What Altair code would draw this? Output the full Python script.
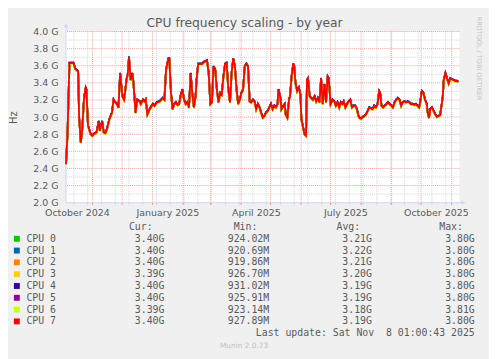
import altair as alt
import pandas as pd

TITLE = "CPU frequency scaling - by year"

cpu_names = ["CPU 0", "CPU 1", "CPU 2", "CPU 3", "CPU 4", "CPU 5", "CPU 6", "CPU 7"]
cpu_colors = ["#00CC00", "#0066B3", "#FF8000", "#FFCC00", "#330099", "#990099", "#CCFF00", "#FF0000"]
# small per-core deviation from the common trace (GHz), read from the coloured fringes
cpu_offset_ghz = [0.006, 0.009, -0.005, 0.0, 0.004, 0.002, -0.01, 0.0]

cur_vals = ["3.40G", "3.40G", "3.40G", "3.39G", "3.40G", "3.40G", "3.39G", "3.40G"]
min_vals = ["924.02M", "920.69M", "919.86M", "926.70M", "931.02M", "925.91M", "923.14M", "927.89M"]
avg_vals = ["3.21G", "3.22G", "3.21G", "3.20G", "3.19G", "3.19G", "3.18G", "3.19G"]
max_vals = ["3.80G", "3.80G", "3.80G", "3.80G", "3.80G", "3.80G", "3.81G", "3.80G"]

# days since 2024-10-01 (UTC)
day_offset = [
    4, 5.5, 7.5, 11.5, 13.5, 15.5, 16.3, 17.3, 19, 20.3, 22.3, 24, 24.7, 26.3, 29, 30.7,
    32.3, 35, 37.3, 38.3, 40.7, 42.3, 44, 45.7, 48, 50.7, 52.3, 53.3, 55.7, 57.3, 59, 61.3,
    63, 65.7, 66.7, 68, 69.7, 71.3, 72.3, 74.7, 76.3, 79, 80, 82.3, 84, 85, 86.7, 89,
    92.3, 94, 96.3, 99, 100.7, 102.3, 104, 105.7, 108, 109, 110.7, 112.3, 114, 115.7, 117.3, 119,
    120.7, 122.3, 124, 125.7, 127.3, 129, 130.7, 132.3, 134, 135.7, 136.7, 138.3, 140.7, 142.3, 144, 145.7,
    147.3, 149, 150.7, 152.3, 154, 155.7, 157.3, 159, 160.7, 162.3, 164, 165.7, 167.3, 169, 170.7, 172.3,
    174, 175.7, 177.3, 179, 180.7, 182.3, 184, 185.7, 187.3, 189, 190.7, 192.3, 194, 195.7, 197.3, 199,
    200.7, 202.3, 204, 205.7, 207.3, 209, 210.7, 212.3, 214, 215.7, 217.3, 219, 220, 221.7, 223, 225,
    226.3, 227.3, 229, 230.7, 231.7, 233.3, 235, 236, 237.3, 239, 240.7, 242.3, 243.3, 245, 246.3, 248,
    249, 250, 251.7, 253.3, 255, 256.7, 258.3, 260, 261.7, 263.3, 265, 266.7, 268.3, 270, 271, 273,
    275, 276.7, 278.3, 280, 281.7, 283.3, 285, 286.3, 288, 289.7, 291.3, 293, 294.7, 296.3, 298, 299.7,
    301.3, 302.3, 304, 305.7, 307.3, 309, 310.7, 312.3, 314, 315.7, 317.3, 319, 320.7, 322.3, 323.3, 324.7,
    326.3, 328, 329.7, 331.3, 333, 334.7, 336.3, 338, 339.7, 341.3, 343, 344.7, 346.3, 348, 349.7, 351.3,
    353, 354.7, 356.3, 358, 359.7, 361.3, 363, 364, 365.7, 367.3, 369, 370.7, 371.7, 373, 374.3, 376,
    377.7, 379.3, 381, 382.7, 384.3, 386, 387, 388, 389.7, 391.3, 393, 394.7, 396.3, 398, 399.7, 401.3,
    402.7,
]
freq_ghz = [
    2.45, 2.80, 3.63, 3.63, 3.56, 3.54, 3.53, 3.00, 2.70, 2.82, 3.22, 3.34, 3.32, 2.90, 2.80, 2.78,
    2.80, 2.82, 2.95, 2.84, 2.95, 2.82, 2.81, 2.86, 2.97, 3.05, 3.20, 3.18, 3.15, 3.11, 3.51, 3.24,
    3.20, 3.45, 3.49, 3.70, 3.43, 3.51, 3.43, 3.05, 3.20, 3.18, 3.15, 3.20, 3.18, 3.20, 3.03, 3.09,
    3.15, 3.13, 3.17, 3.18, 3.20, 3.22, 3.20, 3.55, 3.68, 3.68, 3.28, 3.09, 3.15, 3.17, 3.14, 3.15,
    3.26, 3.32, 3.20, 3.15, 3.17, 3.11, 3.51, 3.28, 3.11, 3.24, 3.43, 3.62, 3.62, 3.62, 3.64, 3.65,
    3.66, 3.51, 3.15, 3.17, 3.59, 3.55, 3.32, 3.17, 3.28, 3.26, 3.47, 3.62, 3.63, 3.32, 3.17, 3.51,
    3.68, 3.59, 3.32, 3.15, 3.20, 3.28, 3.32, 3.59, 3.62, 3.59, 3.18, 3.17, 3.20, 3.18, 3.09, 3.15,
    3.11, 3.05, 2.99, 3.01, 3.05, 3.07, 3.11, 3.15, 3.09, 3.13, 3.11, 3.15, 3.32, 3.24, 3.09, 3.13,
    3.15, 3.03, 2.99, 3.20, 3.24, 3.47, 3.62, 3.59, 3.39, 3.30, 3.34, 3.26, 2.97, 2.88, 2.80, 2.78,
    3.43, 3.45, 3.24, 3.22, 3.20, 3.24, 3.18, 3.22, 3.17, 3.45, 3.15, 3.38, 3.17, 3.47, 3.45, 3.15,
    3.20, 3.18, 3.13, 3.17, 3.11, 3.17, 3.15, 3.18, 3.11, 3.15, 3.18, 3.20, 3.11, 3.13, 3.13, 3.09,
    3.01, 2.99, 2.98, 3.00, 3.01, 3.03, 3.07, 3.11, 3.10, 3.09, 3.13, 3.11, 3.15, 3.30, 3.28, 3.13,
    3.11, 3.13, 3.15, 3.17, 3.15, 3.13, 3.11, 3.17, 3.20, 3.22, 3.20, 3.13, 3.17, 3.18, 3.17, 3.18,
    3.17, 3.15, 3.15, 3.14, 3.15, 3.13, 3.11, 3.17, 3.30, 3.28, 3.20, 3.15, 3.05, 2.99, 3.09, 3.11,
    3.07, 3.03, 3.00, 3.01, 3.02, 3.15, 3.24, 3.43, 3.51, 3.45, 3.39, 3.45, 3.44, 3.43, 3.42, 3.42,
    3.41,
]

x_labels_at = ["2024-10-16", "2025-01-16", "2025-04-16", "2025-07-16", "2025-10-16"]
y_ticks = [2.0, 2.2, 2.4, 2.6, 2.8, 3.0, 3.2, 3.4, 3.6, 3.8, 4.0]
y_minor = [2.1, 2.3, 2.5, 2.7, 2.9, 3.1, 3.3, 3.5, 3.7, 3.9]

FONT = "DejaVu Sans"
MONO = "DejaVu Sans Mono"
TXT = "#5a5a5a"
AXIS_C = "#CFD6F8"
MGRID = "#f0a0a0"
GRID = "#d4d4d4"


def ms(s):
    return int(pd.Timestamp(s, tz="UTC").value // 10**6)


base = pd.Timestamp("2024-10-01", tz="UTC")
rows = []
for name, off in zip(cpu_names, cpu_offset_ghz):
    for d, v in zip(day_offset, freq_ghz):
        t = base + pd.Timedelta(days=d)
        rows.append({"cpu": name, "t": int(t.value // 10**6), "v": round(v + off, 4)})
df = pd.DataFrame(rows)

x_dom = [ms("2024-10-05"), ms("2025-11-09")]
xsc = alt.Scale(type="utc", domain=x_dom)
ysc = alt.Scale(domain=[2.0, 4.0], nice=False, zero=False)

X_AXIS = alt.Axis(values=[ms(s) for s in x_labels_at], format="%B %Y", ticks=False, domain=False,
                  grid=False, labelFont=FONT, labelFontSize=9.6, labelColor=TXT, labelPadding=5,
                  labelAlign="center", labelBaseline="top", labelFlush=False, labelOverlap=False, title=None)
Y_AXIS = alt.Axis(values=y_ticks, labelExpr="format(datum.value, '.1f') + ' G'", ticks=False,
                  domain=False, grid=False, labelFont=FONT, labelFontSize=9.6, labelColor=TXT,
                  labelPadding=8, labelBaseline="middle", title="Hz", titleFont=FONT, titleFontSize=10,
                  titleFontWeight="normal", titleColor=TXT, titleX=-53, titleY=87, titleAngle=-90,
                  titleAlign="center", titleBaseline="middle")


def X(field):
    return alt.X(field, scale=xsc, axis=X_AXIS, title=None)


def Y(field):
    return alt.Y(field, scale=ysc, axis=Y_AXIS, title="Hz")


month_lines = pd.DataFrame({"t": [ms(s) for s in pd.date_range("2024-11-01", "2025-11-01", freq="MS").strftime("%Y-%m-%d")],
                            "a": 1.975, "b": 2.0})
week_lines = pd.DataFrame({"t": [ms(s) for s in pd.date_range("2024-10-13", "2025-11-08", freq="14D").strftime("%Y-%m-%d")],
                           "a": 1.98, "b": 2.0})
ymaj = pd.DataFrame({"v": y_ticks[1:]})
ymin = pd.DataFrame({"v": y_minor})

grid_x_minor = alt.Chart(week_lines).mark_rule(color=GRID, strokeDash=[1, 1], strokeWidth=1).encode(x=X("t:T"))
grid_y_minor = alt.Chart(ymin).mark_rule(color=GRID, strokeDash=[1, 1], strokeWidth=1).encode(y=Y("v:Q"))
grid_x_major = alt.Chart(month_lines).mark_rule(color=MGRID, strokeDash=[1, 1], strokeWidth=1).encode(x=X("t:T"))
grid_y_major = alt.Chart(ymaj).mark_rule(color=MGRID, strokeDash=[1, 1], strokeWidth=1).encode(y=Y("v:Q"))
tick_minor = alt.Chart(week_lines).mark_rule(color="#c8c8c8", strokeWidth=1).encode(x=X("t:T"), y=Y("a:Q"), y2="b:Q")
tick_major = alt.Chart(month_lines).mark_rule(color="#f08080", strokeWidth=1).encode(x=X("t:T"), y=Y("a:Q"), y2="b:Q")

lines = alt.Chart(df).mark_line(strokeWidth=1.8, interpolate="linear").encode(
    x=X("t:T"),
    y=Y("v:Q"),
    color=alt.Color("cpu:N", scale=alt.Scale(domain=cpu_names, range=cpu_colors), legend=None),
)

axis_h = pd.DataFrame({"t": [x_dom[0]], "t2": [ms("2025-11-13")], "v": [2.0]})
axis_v = pd.DataFrame({"t": [x_dom[0]], "v": [2.0], "v2": [4.07]})
ax_h = alt.Chart(axis_h).mark_rule(color=AXIS_C, strokeWidth=1).encode(x=X("t:T"), x2="t2:T", y=Y("v:Q"))
ax_v = alt.Chart(axis_v).mark_rule(color=AXIS_C, strokeWidth=1).encode(x=X("t:T"), y=Y("v:Q"), y2="v2:Q")
arr_h = alt.Chart(axis_h).mark_point(shape="triangle-right", filled=True, size=22, color=AXIS_C, opacity=1).encode(
    x=X("t2:T"), y=Y("v:Q"))
arr_v = alt.Chart(axis_v).mark_point(shape="triangle-up", filled=True, size=22, color=AXIS_C, opacity=1).encode(
    x=X("t:T"), y=Y("v2:Q"))

main = alt.layer(grid_x_minor, grid_y_minor, grid_x_major, grid_y_major, tick_minor, tick_major,
                 ax_h, ax_v, arr_h, arr_v, lines)

leg = pd.DataFrame({"cpu": cpu_names, "row": list(range(8)), "cur": cur_vals, "mn": min_vals,
                    "avg": avg_vals, "mx": max_vals})
rsc = alt.Scale(domain=[0, 7], range=[210.7, 294.7])
ly = alt.Y("row:Q", scale=rsc, axis=None)
squares = alt.Chart(leg).mark_square(size=36, opacity=1).encode(
    x=alt.value(-50), y=ly,
    color=alt.Color("cpu:N", scale=alt.Scale(domain=cpu_names, range=cpu_colors), legend=None))


def col(field, xpos, align):
    return alt.Chart(leg).mark_text(align=align, baseline="middle", font=MONO, fontSize=10, color=TXT).encode(
        x=alt.value(xpos), y=ly, text=f"{field}:N")


names = col("cpu", -40.3, "left")
c_cur = col("cur", 100, "right")
c_min = col("mn", 206.5, "right")
c_avg = col("avg", 311, "right")
c_max = col("mx", 415.5, "right")


def label(s, x, y, align="right", font=MONO, size=10, color=TXT, baseline="middle", angle=0):
    return alt.Chart(pd.DataFrame({"s": [s]})).mark_text(
        align=align, baseline=baseline, font=font, fontSize=size, color=color, angle=angle).encode(
        x=alt.value(x), y=alt.value(y), text="s:N")


headers = [label(h, xp, 198.7) for h, xp in zip(["Cur:", "Min:", "Avg:", "Max:"], [88, 194.5, 299, 403.5])]
footer = label("Last update: Sat Nov\u00a0 8 01:00:43 2025", 415.5, 306.7)
munin = label("Munin 2.0.73", 181, 319.3, align="center", font=FONT, size=7.5, color="#c0c0c0")
title = label(TITLE, 181.5, -5, align="center", font=FONT, size=12.5, baseline="alphabetic")
watermark = label("RRDTOOL / TOBI OETIKER", 420, -15, align="left", font=FONT, size=6.6, color="#c4c4c4", angle=90)

legend = alt.layer(squares, names, c_cur, c_min, c_avg, c_max, *headers, footer, munin, title, watermark)

chart = alt.layer(main, legend).resolve_scale(y="independent").properties(
    width=400, height=174,
    autosize=alt.AutoSizeParams(type="none"),
    padding={"left": 59, "top": 21, "right": 30, "bottom": 156},
    background="#F0F0F0",
).configure_view(fill="white", strokeWidth=0)

chart.save("out.html", embed_options={"renderer": "svg", "actions": False})
